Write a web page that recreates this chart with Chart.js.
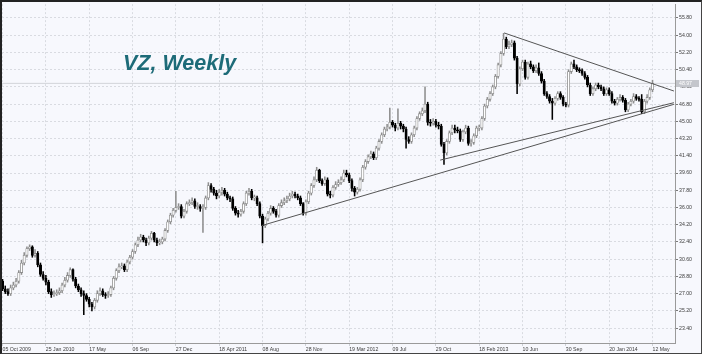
<!DOCTYPE html>
<html><head><meta charset="utf-8">
<script src="https://cdn.jsdelivr.net/npm/chart.js@4.4.1/dist/chart.umd.min.js"></script>
<style>
html,body{margin:0;padding:0;background:#f7f8fd;}
#wrap{position:relative;width:702px;height:354px;overflow:hidden;background:#f7f8fd;}
#c{position:absolute;left:0;top:0;}
#frame{position:absolute;left:0;top:0;width:702px;height:354px;box-sizing:border-box;border-top:2px solid #222;border-left:2px solid #222;border-right:1px solid #444;border-bottom:1px solid #444;pointer-events:none;}
#title{position:absolute;left:123px;top:51px;font:italic bold 21.5px "Liberation Sans",Arial,sans-serif;color:#1d6b78;white-space:nowrap;}
</style></head><body>
<div id="wrap"><canvas id="c" width="702" height="354"></canvas><div id="title">VZ, Weekly</div><div id="frame"></div></div>
<script>
// ---- data (weekly OHLC, week 0 = 05 Oct 2009) ----
const opens = [28.3,27.5,27.2,27.0,27.6,27.9,28.3,29.2,30.2,31.0,
 31.7,31.9,31.0,31.2,30.0,29.0,28.6,28.2,27.2,26.9,
 27.0,27.1,27.3,27.9,28.4,28.9,29.5,28.5,27.8,27.4,
 27.0,26.8,26.4,25.9,25.6,26.3,27.0,27.3,26.9,26.8,
 26.9,27.6,28.6,29.4,29.8,29.9,29.5,30.3,30.8,31.4,
 32.1,32.6,32.9,32.6,32.3,32.8,33.3,32.6,32.3,32.4,
 32.7,33.6,34.5,35.2,35.7,36.0,36.1,35.1,35.6,36.4,
 36.5,36.7,36.1,36.1,35.9,36.0,37.0,38.3,37.9,37.5,
 37.2,37.6,37.8,37.4,37.0,36.9,35.9,35.4,35.3,35.6,
 36.4,37.5,37.7,37.0,37.0,36.4,35.1,34.1,34.8,35.4,
 35.9,35.6,35.2,36.2,36.5,36.7,36.9,37.2,37.4,37.2,
 37.0,36.4,35.4,36.6,37.5,38.3,38.9,39.9,38.8,38.5,
 38.9,37.4,37.3,38.1,38.4,38.6,38.9,39.6,39.4,38.8,
 38.0,37.6,37.9,38.9,40.2,40.8,41.3,41.6,41.2,42.2,
 42.9,43.6,44.2,44.4,44.9,44.6,44.3,44.8,44.5,44.2,
 43.1,42.9,43.6,44.3,45.3,45.8,46.1,46.8,44.9,44.8,
 45.0,44.6,44.5,42.6,41.7,42.9,43.8,44.3,44.1,44.0,
 43.1,43.9,44.3,42.7,42.8,43.5,44.3,44.3,45.3,46.6,
 47.3,47.9,48.6,49.7,50.9,52.1,53.6,52.8,53.0,53.2,
 51.6,48.9,50.5,51.2,49.6,51.0,50.7,50.3,50.6,50.0,
 49.2,47.9,47.6,47.1,46.9,47.4,47.9,47.5,46.8,46.7,
 50.2,51.0,50.7,50.4,50.3,50.0,49.6,48.8,47.9,48.4,
 48.8,48.6,48.4,47.9,48.3,47.9,47.1,46.9,47.3,47.5,
 47.2,46.2,46.8,47.1,47.6,47.4,47.3,46.0,47.1,47.5,
 48.3];
const highs = [28.5,27.8,27.5,27.9,28.2,28.6,29.4,30.5,31.3,31.9,
 32.1,32.0,31.6,31.4,30.2,29.3,28.9,28.4,27.5,27.3,
 27.4,27.6,28.1,28.7,29.2,29.7,29.6,28.7,28.0,27.6,
 27.3,27.0,26.6,26.1,26.5,27.3,27.6,27.5,27.1,27.2,
 27.8,28.8,29.6,30.1,30.2,30.1,30.5,31.0,31.6,32.3,
 32.9,33.2,33.1,32.8,33.0,33.5,33.4,32.8,32.7,32.9,
 33.8,34.7,35.4,35.9,37.7,36.4,36.3,35.8,36.6,36.8,
 37.0,36.9,36.5,36.3,36.3,37.2,38.6,38.5,38.1,37.8,
 37.9,38.1,38.0,37.6,37.2,37.1,36.1,35.7,35.8,36.6,
 37.7,38.0,37.9,37.3,37.2,36.6,35.3,35.0,35.6,36.2,
 36.1,35.8,36.4,36.8,37.0,37.2,37.5,37.7,37.6,37.4,
 37.2,36.5,36.8,37.7,38.5,39.2,40.2,40.0,39.0,39.2,
 39.1,37.7,38.3,38.7,38.9,39.2,39.9,39.9,39.6,39.0,
 38.2,38.1,39.1,40.4,41.0,41.5,41.9,41.8,42.4,43.1,
 43.8,44.4,44.7,46.4,45.1,44.8,46.3,45.0,44.7,44.4,
 43.4,43.8,44.5,45.5,46.0,46.4,48.6,47.0,45.2,45.3,
 45.2,44.9,44.7,42.8,43.1,44.0,44.6,44.6,44.4,44.2,
 44.1,44.6,44.5,43.1,43.7,44.5,44.6,45.5,46.8,47.5,
 48.1,48.8,49.9,51.1,52.3,54.2,53.8,53.4,53.5,53.4,
 51.8,50.7,51.4,51.4,51.2,51.3,50.9,50.9,51.1,50.2,
 49.4,48.1,47.8,47.4,47.6,48.1,48.1,47.7,47.0,50.4,
 51.2,51.4,50.9,50.6,50.5,50.2,49.8,49.0,48.6,49.0,
 49.0,48.8,48.6,48.5,48.5,48.1,47.3,47.5,47.8,47.7,
 47.4,47.0,47.3,47.9,47.8,47.6,47.8,47.3,47.8,48.5,
 49.3];
const lows = [27.3,27.0,26.8,26.8,27.4,27.7,28.1,29.0,30.0,30.8,
 31.5,30.8,30.8,29.8,28.8,28.4,27.9,27.0,26.6,26.7,
 26.8,26.9,27.1,27.7,28.2,28.7,28.3,27.6,27.2,26.7,
 24.8,26.2,25.6,25.2,25.4,26.1,26.8,26.7,26.5,26.6,
 26.7,27.4,28.4,29.2,29.6,29.3,29.3,30.1,30.6,31.2,
 31.9,32.4,32.4,32.0,32.1,32.6,32.4,32.0,32.1,32.2,
 32.5,33.4,34.3,35.0,35.5,35.8,34.9,34.9,35.4,36.2,
 36.3,35.9,35.8,35.6,33.4,35.8,36.8,37.6,37.3,36.9,
 37.0,37.3,37.2,36.8,36.6,35.7,35.2,35.0,35.1,35.4,
 36.2,37.3,36.8,36.7,36.2,34.9,32.3,33.9,34.6,35.2,
 35.4,35.0,35.0,36.0,36.3,36.5,36.7,37.0,37.0,36.8,
 36.2,35.2,35.2,36.4,37.3,38.1,38.7,38.6,38.3,38.3,
 37.2,37.0,37.1,37.9,38.2,38.4,38.7,39.2,38.6,37.7,
 37.2,37.4,37.7,38.7,40.0,40.6,41.1,41.0,41.0,42.0,
 42.7,43.4,44.0,44.2,44.4,44.0,44.1,44.2,43.9,42.2,
 42.7,42.7,43.4,44.1,45.1,45.6,45.9,44.6,44.5,44.6,
 44.4,44.2,42.4,40.5,41.5,42.7,43.6,43.8,43.8,42.9,
 42.9,43.7,42.5,42.4,42.6,43.3,44.0,44.1,45.1,46.4,
 47.1,47.7,48.4,49.5,50.7,51.9,52.6,52.6,52.8,51.4,
 47.9,48.7,50.3,49.4,49.4,50.5,50.1,50.1,49.8,49.0,
 47.7,47.4,46.9,45.2,46.7,47.2,47.3,46.6,46.5,46.5,
 50.0,50.5,50.2,50.1,49.8,49.4,48.6,47.7,47.7,48.2,
 48.4,48.2,47.7,47.7,47.7,46.9,46.7,46.7,47.1,47.0,
 46.0,46.0,46.6,46.9,47.2,47.1,45.8,45.8,46.9,47.3,
 48.1];
const closes = [27.5,27.2,27.0,27.6,27.9,28.3,29.2,30.2,31.0,31.7,
 31.9,31.0,31.2,30.0,29.0,28.6,28.2,27.2,26.9,27.0,
 27.1,27.3,27.9,28.4,28.9,29.5,28.5,27.8,27.4,27.0,
 26.8,26.4,25.9,25.6,26.3,27.0,27.3,26.9,26.8,26.9,
 27.6,28.6,29.4,29.8,29.9,29.5,30.3,30.8,31.4,32.1,
 32.6,32.9,32.6,32.3,32.8,33.3,32.6,32.3,32.4,32.7,
 33.6,34.5,35.2,35.7,36.0,36.1,35.1,35.6,36.4,36.5,
 36.7,36.1,36.1,35.9,36.0,37.0,38.3,37.9,37.5,37.2,
 37.6,37.8,37.4,37.0,36.9,35.9,35.4,35.3,35.6,36.4,
 37.5,37.7,37.0,37.0,36.4,35.1,34.1,34.8,35.4,35.9,
 35.6,35.2,36.2,36.5,36.7,36.9,37.2,37.4,37.2,37.0,
 36.4,35.4,36.6,37.5,38.3,38.9,39.9,38.8,38.5,38.9,
 37.4,37.3,38.1,38.4,38.6,38.9,39.6,39.4,38.8,38.0,
 37.6,37.9,38.9,40.2,40.8,41.3,41.6,41.2,42.2,42.9,
 43.6,44.2,44.4,44.9,44.6,44.3,44.8,44.5,44.2,43.1,
 42.9,43.6,44.3,45.3,45.8,46.1,46.8,44.9,44.8,45.0,
 44.6,44.5,42.6,41.7,42.9,43.8,44.3,44.1,44.0,43.1,
 43.9,44.3,42.7,42.8,43.5,44.3,44.3,45.3,46.6,47.3,
 47.9,48.6,49.7,50.9,52.1,53.6,52.8,53.0,53.2,51.6,
 48.9,50.5,51.2,49.6,51.0,50.7,50.3,50.6,50.0,49.2,
 47.9,47.6,47.1,46.9,47.4,47.9,47.5,46.8,46.7,50.2,
 51.0,50.7,50.4,50.3,50.0,49.6,48.8,47.9,48.4,48.8,
 48.6,48.4,47.9,48.3,47.9,47.1,46.9,47.3,47.5,47.2,
 46.2,46.8,47.1,47.6,47.4,47.3,46.0,47.1,47.5,48.3,
 48.97];

// tick labels
const dateTickWeeks = [0,16,32,48,64,80,96,112,128,144,160,176,192,208,224,240];
const dateLabels = ["05 Oct 2009","25 Jan 2010","17 May","06 Sep","27 Dec","18 Apr 2011","08 Aug","28 Nov","19 Mar 2012","09 Jul","29 Oct","18 Feb 2013","10 Jun","30 Sep","20 Jan 2014","12 May"];
const priceTicks = [23.40,25.20,27.00,28.80,30.60,32.40,34.20,36.00,37.80,39.60,41.40,43.20,45.00,46.80,48.60,50.40,52.20,54.00,55.80];

// trend lines: [week, price] endpoints
const trendSupportLong = [[95.6,34.1],[247.9,46.78]];
const trendSupportShort = [[161.6,40.95],[247.9,46.95]];
const trendResistance = [[185.2,54.24],[247.9,48.17]];

const lastPrice = closes[closes.length-1];
const UP = '#8e8e8e', DOWN = '#000000';

const wickData = closes.map((c,i)=>({x:i, y:[lows[i], highs[i]]}));
const bodyData = closes.map((c,i)=>({x:i, y:[Math.min(opens[i],c), Math.max(opens[i],c)]}));
const isUp = closes.map((c,i)=> c >= opens[i]);

const lineDs = (pts,color,order)=>({type:'line', data:pts.map(p=>({x:p[0], y:p[1]})), borderColor:color, borderWidth:1, pointRadius:0, fill:false, order:order, tension:0});

const priceBox = {
  id:'priceBox',
  afterDraw(chart){
    const ctx = chart.ctx, y = chart.scales.y.getPixelForValue(lastPrice);
    const x0 = chart.chartArea.right + 1;
    ctx.save();
    ctx.fillStyle = '#c4c6cc';
    ctx.fillRect(x0, Math.round(y)-3, 23, 7);
    ctx.fillStyle = '#ffffff';
    ctx.font = '5.2px "Liberation Sans", Arial, sans-serif';
    ctx.textBaseline = 'middle';
    ctx.fillText(lastPrice.toFixed(2), x0+3, Math.round(y)+0.5);
    ctx.restore();
  }
};

new Chart(document.getElementById('c'), {
  type:'bar',
  data:{datasets:[
    lineDs(trendSupportLong,'#555555',0),
    lineDs(trendSupportShort,'#555555',0),
    lineDs(trendResistance,'#555555',0),
    {type:'bar', data:bodyData, backgroundColor:isUp.map(u=>u?'#ffffff':DOWN), borderColor:isUp.map(u=>u?UP:DOWN), borderWidth:0.8, borderSkipped:false, barThickness:2.4, minBarLength:1, grouped:false, order:1},
    {type:'bar', data:wickData, backgroundColor:isUp.map(u=>u?UP:DOWN), borderWidth:0, barThickness:0.9, grouped:false, order:2},
    {type:'line', data:[{x:-0.2,y:lastPrice},{x:248.3,y:lastPrice}], borderColor:'#d2d4d9', borderWidth:1, pointRadius:0, order:5}
  ]},
  options:{
    responsive:false, animation:false, events:[],
    layout:{padding:{left:2, top:2, right:0, bottom:0}},
    plugins:{legend:{display:false}, tooltip:{enabled:false}},
    scales:{
      x:{type:'linear', min:-0.2, max:248.3, offset:false,
        afterBuildTicks:s=>{ s.ticks = dateTickWeeks.map(v=>({value:v})); },
        afterFit:s=>{ s.height = 11; },
        ticks:{autoSkip:false, maxRotation:0, align:'start', padding:0,
          callback:v=>dateLabels[dateTickWeeks.indexOf(v)],
          font:{size:5.2, family:'"Liberation Sans", Arial, sans-serif'}, color:'#3c3c3c'},
        grid:{offset:false, color:'#d9dbe1', lineWidth:1, drawTicks:true, tickLength:3, tickColor:'#cdd0d6', tickBorderDash:[2,2]},
        border:{display:true, color:'#9a9a9a', width:1, dash:[2,2]}
      },
      y:{type:'linear', position:'right', min:21.84, max:57.25,
        afterBuildTicks:s=>{ s.ticks = priceTicks.map(v=>({value:v})); },
        afterFit:s=>{ s.width = 27; },
        ticks:{padding:1, callback:v=>Number(v).toFixed(2),
          font:{size:5.2, family:'"Liberation Sans", Arial, sans-serif'}, color:'#3c3c3c'},
        grid:{color:'#d9dbe1', lineWidth:1, drawTicks:true, tickLength:3, tickColor:'#7a7a7a', tickBorderDash:[]},
        border:{display:true, color:'#9a9a9a', width:1, dash:[2,2]}
      }
    }
  },
  plugins:[priceBox]
});
</script>
</body></html>
